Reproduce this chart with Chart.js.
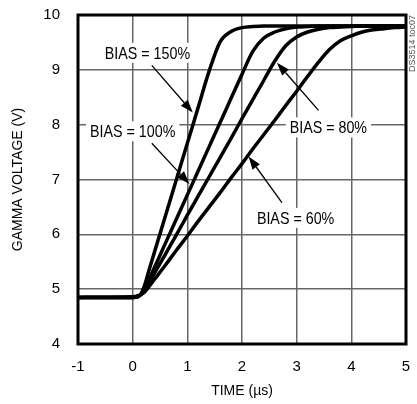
<!DOCTYPE html>
<html>
<head>
<meta charset="utf-8">
<script src="https://cdn.jsdelivr.net/npm/chart.js@4.4.0/dist/chart.umd.min.js"></script>
<style>
  html, body { margin: 0; padding: 0; background: #fff; }
  #wrap { width: 417px; height: 404px; }
</style>
</head>
<body>
<div id="wrap"><canvas id="gammaChart" width="417" height="404"></canvas></div>
<script>
// Tempo (µs), comune a tutte le curve
const timeUs = [-1, 0, 0.1, 0.2, 0.3, 0.4, 0.6, 0.8, 1.0, 1.2, 1.4, 1.6, 1.8, 2.0, 2.2, 2.4, 2.6, 2.8, 3.0, 3.2, 3.4, 3.6, 3.8, 4.0, 4.2, 4.4, 4.6, 4.8, 5.0];

// Tensione gamma (V) per ogni valore di BIAS
const bias150 = [4.85, 4.85, 4.86, 5.02, 5.35, 5.68, 6.34, 7.00, 7.66, 8.32, 8.98, 9.51, 9.70, 9.77, 9.79, 9.80, 9.80, 9.80, 9.80, 9.80, 9.80, 9.80, 9.80, 9.80, 9.80, 9.80, 9.80, 9.80, 9.80];
const bias100 = [4.85, 4.85, 4.87, 4.96, 5.18, 5.40, 5.84, 6.28, 6.72, 7.16, 7.60, 8.04, 8.48, 8.92, 9.34, 9.58, 9.69, 9.75, 9.78, 9.79, 9.80, 9.80, 9.80, 9.80, 9.80, 9.80, 9.80, 9.80, 9.80];
const bias80  = [4.85, 4.85, 4.87, 4.94, 5.11, 5.29, 5.64, 5.99, 6.35, 6.70, 7.05, 7.40, 7.75, 8.11, 8.46, 8.81, 9.16, 9.44, 9.60, 9.69, 9.74, 9.77, 9.78, 9.79, 9.80, 9.80, 9.80, 9.80, 9.80];
const bias60  = [4.85, 4.86, 4.88, 4.93, 5.05, 5.18, 5.44, 5.71, 5.97, 6.24, 6.50, 6.76, 7.03, 7.29, 7.56, 7.82, 8.08, 8.35, 8.61, 8.88, 9.14, 9.37, 9.53, 9.62, 9.69, 9.73, 9.75, 9.77, 9.78];

// Etichette delle curve (testo, posizione testo, freccia da -> a), in unità dei dati
const noteText  = ['BIAS = 150%', 'BIAS = 100%', 'BIAS = 80%', 'BIAS = 60%'];
const noteAt    = [[0.27, 9.31], [0.0, 7.88], [3.58, 7.95], [2.98, 6.30]];
const arrowFrom = [[0.35, 9.08], [0.35, 7.66], [3.40, 8.26], [2.73, 6.58]];
const arrowTo   = [[1.10, 8.22], [1.04, 6.92], [2.64, 9.13], [2.12, 7.42]];

const FONT = '"Liberation Sans", Arial, sans-serif';

const toPoints = ys => timeUs.map((t, i) => ({ x: t, y: ys[i] }));

function curve(ys) {
  return {
    data: toPoints(ys),
    borderColor: '#000',
    borderWidth: 3.5,
    pointRadius: 0,
    fill: false,
    cubicInterpolationMode: 'monotone'
  };
}

// cornice spessa intorno all'area del grafico
const framePlugin = {
  id: 'frame',
  afterDatasetsDraw(chart) {
    const { ctx, chartArea: a } = chart;
    ctx.save();
    ctx.strokeStyle = '#000';
    ctx.lineWidth = 3;
    ctx.strokeRect(a.left, a.top, a.right - a.left, a.bottom - a.top);
    ctx.restore();
  }
};

// etichette BIAS con frecce
const notesPlugin = {
  id: 'notes',
  afterDraw(chart) {
    const { ctx } = chart;
    const xs = chart.scales.x, ys = chart.scales.y;
    const px = p => [xs.getPixelForValue(p[0]), ys.getPixelForValue(p[1])];
    ctx.save();
    ctx.font = '17px ' + FONT;
    ctx.textAlign = 'center';
    ctx.textBaseline = 'middle';
    const squeeze = 0.84; // testo stretto come l'originale
    noteText.forEach((txt, i) => {
      const [cx, cy] = px(noteAt[i]);
      const w = ctx.measureText(txt).width * squeeze;
      ctx.fillStyle = '#fff';
      ctx.fillRect(cx - w / 2 - 4, cy - 10, w + 8, 20);
      ctx.save();
      ctx.translate(cx, cy + 1);
      ctx.scale(squeeze, 1);
      ctx.fillStyle = '#000';
      ctx.fillText(txt, 0, 0);
      ctx.restore();

      const [x1, y1] = px(arrowFrom[i]);
      const [x2, y2] = px(arrowTo[i]);
      const ang = Math.atan2(y2 - y1, x2 - x1);
      const hl = 13, hw = 4.5;
      ctx.strokeStyle = '#000';
      ctx.lineWidth = 1.3;
      ctx.beginPath();
      ctx.moveTo(x1, y1);
      ctx.lineTo(x2 - hl * Math.cos(ang), y2 - hl * Math.sin(ang));
      ctx.stroke();
      ctx.beginPath();
      ctx.moveTo(x2, y2);
      ctx.lineTo(x2 - hl * Math.cos(ang) + hw * Math.sin(ang), y2 - hl * Math.sin(ang) - hw * Math.cos(ang));
      ctx.lineTo(x2 - hl * Math.cos(ang) - hw * Math.sin(ang), y2 - hl * Math.sin(ang) + hw * Math.cos(ang));
      ctx.closePath();
      ctx.fillStyle = '#000';
      ctx.fill();
    });

    // codice figura, verticale a destra
    ctx.translate(413, 15);
    ctx.rotate(-Math.PI / 2);
    ctx.font = '9px ' + FONT;
    ctx.fillStyle = '#555';
    ctx.textAlign = 'right';
    ctx.textBaseline = 'middle';
    ctx.fillText('DS3514 toc07', 0, 0);
    ctx.restore();
  }
};

new Chart(document.getElementById('gammaChart'), {
  type: 'line',
  data: {
    datasets: [curve(bias150), curve(bias100), curve(bias80), curve(bias60)]
  },
  options: {
    responsive: false,
    animation: false,
    layout: { padding: { top: 15, right: 11, bottom: 0, left: 0 } },
    plugins: { legend: { display: false }, tooltip: { enabled: false } },
    scales: {
      x: {
        type: 'linear',
        min: -1, max: 5,
        afterFit: s => { s.height = 60; s.paddingLeft = 0; s.paddingRight = 0; },
        border: { display: false },
        grid: { color: '#666', lineWidth: 1.5, drawTicks: false },
        ticks: { stepSize: 1, padding: 14, color: '#000', font: { family: FONT, size: 15 } },
        title: { display: true, text: 'TIME (µs)', color: '#000', padding: { top: 0, bottom: 4 }, font: { family: FONT, size: 14 } }
      },
      y: {
        min: 4, max: 10,
        afterFit: s => { s.width = 78; s.paddingTop = 0; s.paddingBottom = 0; },
        border: { display: false },
        grid: { color: '#666', lineWidth: 1.5, drawTicks: false },
        ticks: { stepSize: 1, padding: 18, color: '#000', font: { family: FONT, size: 15 } },
        title: { display: true, text: 'GAMMA VOLTAGE (V)', color: '#000', padding: { top: 10, bottom: 0 }, font: { family: FONT, size: 14 } }
      }
    }
  },
  plugins: [framePlugin, notesPlugin]
});
</script>
</body>
</html>
